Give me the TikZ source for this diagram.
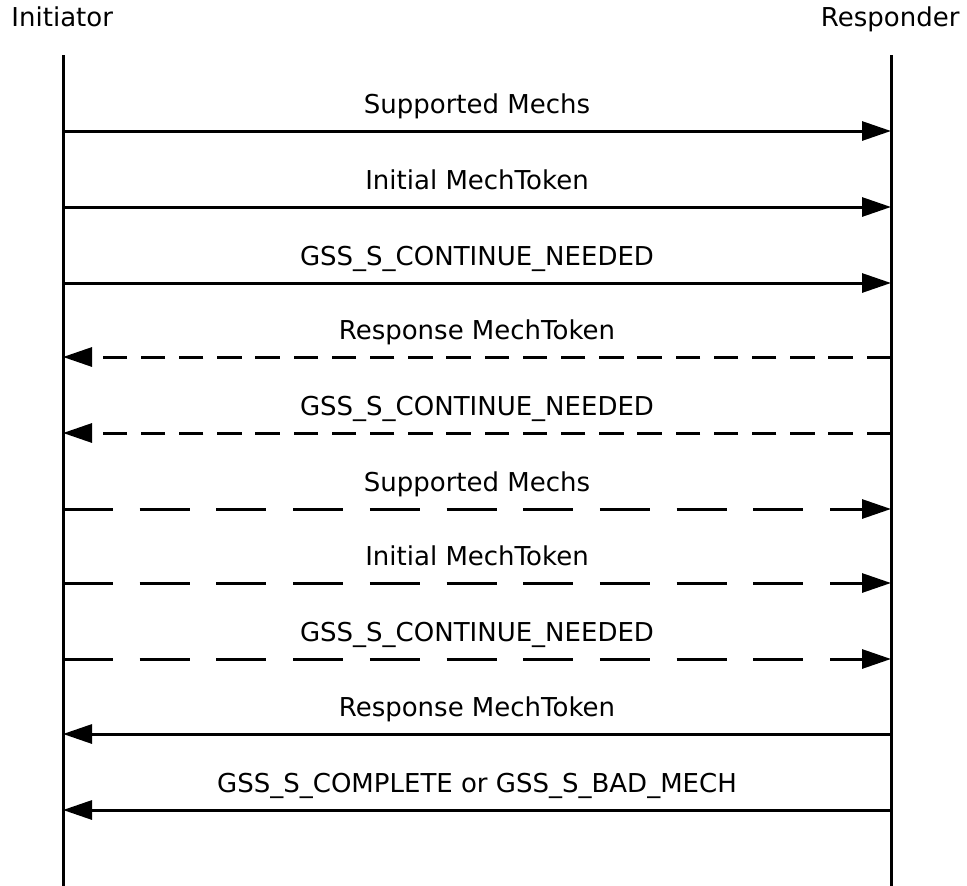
\documentclass[tikz,border=0pt]{standalone}
\usepackage{fontspec}
\setmainfont{DejaVu Sans}
\usetikzlibrary{arrows.meta}
\usetikzlibrary{positioning}

\begin{document}
\begin{tikzpicture}[x=1pt,y=-1pt,line width=3pt,
  >={Triangle[length=29pt,width=19pt]},
  every node/.style={font=\fontsize{26}{31}\selectfont, inner sep=0pt}]
  \tikzstyle{callsolid}=[->]
  \tikzstyle{replysolid}=[->]
  \tikzstyle{replydash}=[->, dash pattern=on 24.5pt off 13.7pt]
  \tikzstyle{retrydash}=[->, dash pattern=on 50pt off 26.7pt]
  \useasboundingbox (0,0) rectangle (967,886);

  % parties and lifelines
  \node[anchor=base west] (init) at (10,27) {Initiator};
  \node[anchor=base east] (resp) at (961,27) {Responder};
  \coordinate (itop) at (63,55);
  \coordinate (ibot) at (63,886);
  \coordinate (rtop) at (891,55);
  \coordinate (rbot) at (891,886);
  \draw (itop) -- (ibot);
  \draw (rtop) -- (rbot);

  % messages
  \foreach \y/\a/\b/\sty/\txt [count=\i] in {
      131/i/r/callsolid/Supported Mechs,
      207/i/r/callsolid/Initial MechToken,
      283/i/r/callsolid/GSS\_S\_CONTINUE\_NEEDED,
      357/r/i/replydash/Response MechToken,
      433/r/i/replydash/GSS\_S\_CONTINUE\_NEEDED,
      509/i/r/retrydash/Supported Mechs,
      583/i/r/retrydash/Initial MechToken,
      659/i/r/retrydash/GSS\_S\_CONTINUE\_NEEDED,
      734/r/i/replysolid/Response MechToken,
      810/r/i/replysolid/GSS\_S\_COMPLETE or GSS\_S\_BAD\_MECH}{
    \coordinate (i\i) at (63,\y);
    \coordinate (r\i) at (891,\y);
    \node[anchor=base] (m\i) at (477,\y-18) {\txt};
    \draw[\sty] (\a\i) -- (\b\i);
  }
\end{tikzpicture}
\end{document}
